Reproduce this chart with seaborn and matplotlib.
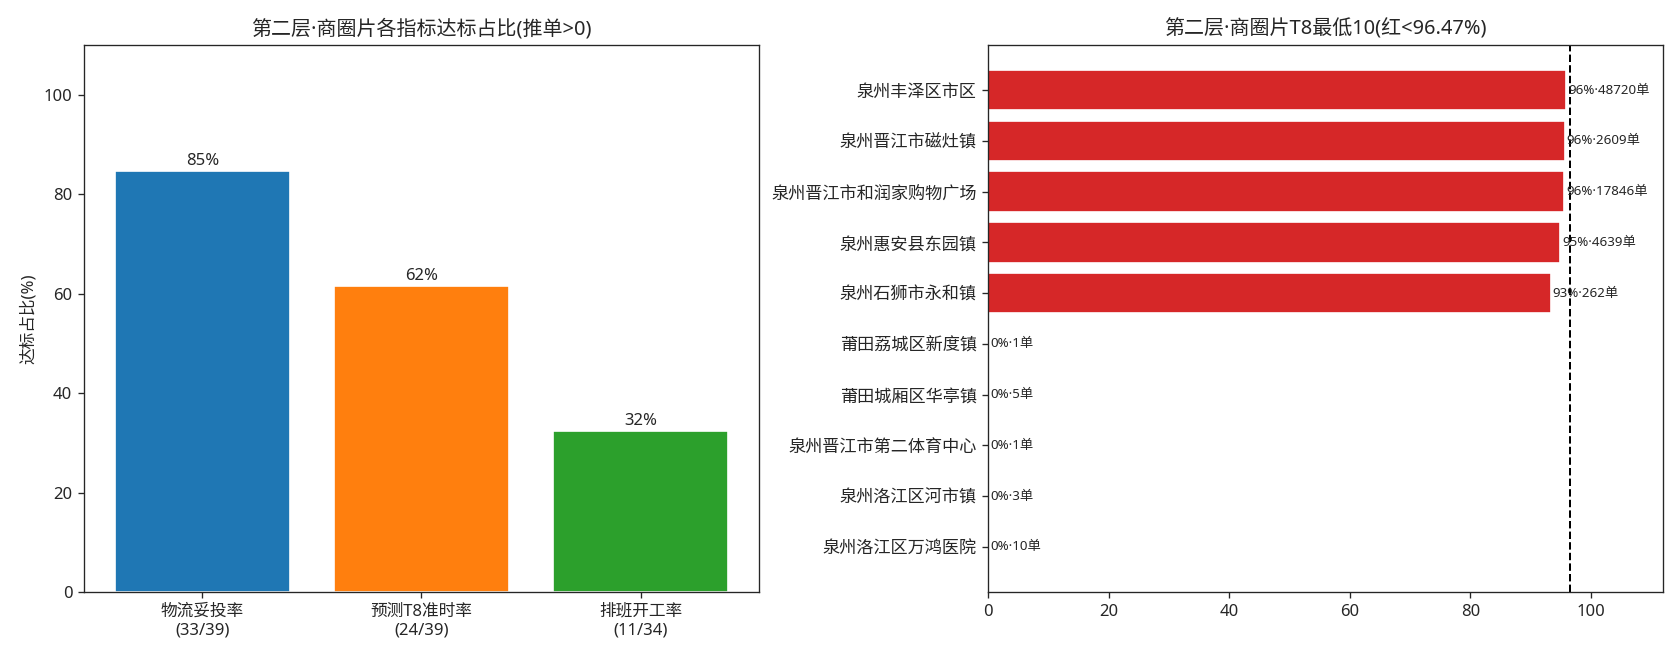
import numpy as np
import pandas as pd
import seaborn as sns
import matplotlib
matplotlib.use('Agg')
import matplotlib.pyplot as plt

# Data
metrics = ['物流妥投率\n(33/39)', '预测T8准时率\n(24/39)', '排班开工率\n(11/34)']
metric_pct = [84.6, 61.5, 32.4]
metric_colors = ['#1f77b4', '#ff7f0e', '#2ca02c']

areas = ['泉州丰泽区市区', '泉州晋江市磁灶镇', '泉州晋江市和润家购物广场', '泉州惠安县东园镇',
         '泉州石狮市永和镇', '莆田荔城区新度镇', '莆田城厢区华亭镇', '泉州晋江市第二体育中心',
         '泉州洛江区河市镇', '泉州洛江区万鸿医院']
t8_pct = [95.9, 95.7, 95.6, 94.9, 93.3, 0, 0, 0, 0, 0]
orders = [48720, 2609, 17846, 4639, 262, 1, 5, 1, 3, 10]
threshold = 96.47

sns.set_style('ticks')
# Latin font first so the middle dot stays narrow, CJK font for Chinese
plt.rcParams['font.family'] = ['Noto Sans', 'Noto Sans CJK SC', 'DejaVu Sans']
plt.rcParams['axes.unicode_minus'] = False

fig, (ax1, ax2) = plt.subplots(1, 2, figsize=(14, 5.5), dpi=120)
fig.subplots_adjust(left=0.050, right=0.990, top=0.932, bottom=0.103, wspace=0.34)

# Left: share of areas reaching target
df1 = pd.DataFrame({'metric': metrics, 'pct': metric_pct})
sns.barplot(data=df1, x='metric', y='pct', hue='metric', palette=metric_colors,
            legend=False, width=0.8, saturation=1, ax=ax1)
for p, v in zip(ax1.patches, metric_pct):
    ax1.text(p.get_x() + p.get_width() / 2, v + 0.4, f'{v:.0f}%',
             ha='center', va='bottom', fontsize=10)
ax1.set_xlim(-0.54, 2.54)
ax1.set_ylim(0, 110)
ax1.set_xlabel('')
ax1.set_ylabel('达标占比(%)', fontsize=10)
ax1.set_title('第二层·商圈片各指标达标占比(推单>0)', fontsize=12)
ax1.tick_params(labelsize=10)

# Right: lowest 10 by T8 on-time rate
df2 = pd.DataFrame({'area': areas, 'pct': t8_pct})
sns.barplot(data=df2, y='area', x='pct', color='#d62728', saturation=1,
            width=0.8, orient='h', ax=ax2)
for i, (v, n) in enumerate(zip(t8_pct, orders)):
    ax2.text(v + 0.3, i, f'{v:.0f}%·{n}单', va='center', ha='left', fontsize=8)
ax2.axvline(threshold, color='black', linestyle='--', linewidth=1.2)
ax2.set_xlim(0, 112)
ax2.set_ylim(9.89, -0.89)
ax2.set_xlabel('')
ax2.set_ylabel('')
ax2.set_title(f'第二层·商圈片T8最低10(红<{threshold}%)', fontsize=12)
ax2.tick_params(axis='x', labelsize=10)
ax2.tick_params(axis='y', labelsize=10.3)

for ax in (ax1, ax2):
    for s in ax.spines.values():
        s.set_visible(True)

fig.savefig('out.png', dpi=120)
